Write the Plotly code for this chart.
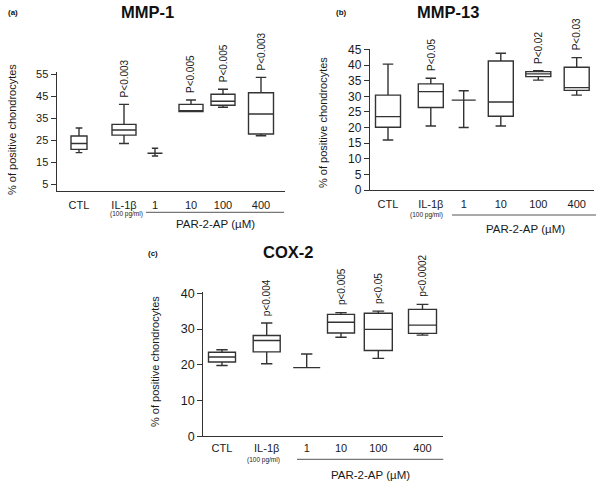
import plotly.graph_objects as go

W, H = 600, 486

categories = ["CTL", "IL-1β", "1", "10", "100", "400"]

# (a) MMP-1
mmp1_lower = [19.3, 23.5, 17.8, 38.0, 40.0, 27.0]
mmp1_q1 = [20.8, 27.3, 19.0, 38.0, 40.9, 27.8]
mmp1_median = [23.5, 29.6, 19.0, 38.3, 42.7, 36.9]
mmp1_q3 = [26.9, 32.2, 19.0, 41.3, 45.9, 46.6]
mmp1_upper = [30.5, 41.3, 21.3, 43.3, 48.2, 53.6]
mmp1_p = ["", "P<0.003", "", "P<0.005", "P<0.005", "P<0.003"]

# (b) MMP-13
mmp13_lower = [16.0, 20.5, 20.0, 20.5, 35.2, 30.4]
mmp13_q1 = [20.1, 26.4, 28.8, 23.6, 36.3, 31.9]
mmp13_median = [23.5, 31.5, 28.8, 28.2, 37.2, 32.8]
mmp13_q3 = [30.4, 34.0, 28.8, 41.3, 37.9, 39.3]
mmp13_upper = [40.3, 35.8, 31.8, 43.8, 38.2, 42.4]
mmp13_p = ["", "P<0.05", "", "", "P<0.02", "P<0.03"]

# (c) COX-2
cox2_lower = [19.8, 20.3, 19.2, 27.7, 21.8, 28.3]
cox2_q1 = [20.8, 23.6, 19.2, 28.9, 24.0, 28.8]
cox2_median = [22.2, 26.8, 19.2, 31.9, 29.9, 31.1]
cox2_q3 = [23.5, 28.2, 19.2, 34.1, 34.4, 35.5]
cox2_upper = [24.2, 31.7, 23.0, 34.6, 35.0, 36.9]
cox2_p = ["", "p<0.004", "", "p<0.005", "p<0.05", "p<0.0002"]

a_ticks = [5, 15, 25, 35, 45, 55]
b_ticks = [0, 5, 10, 15, 20, 25, 30, 35, 40, 45]
c_ticks = [0, 10, 20, 30, 40]

LINE = "#333333"
TXT = "#1a1a1a"
FONT = "Liberation Sans, Arial, sans-serif"

# layout geometry (pixels): plot box left, right, top, bottom; y range; x slot positions; box widths
panels = [
    dict(key="a", title="MMP-1", tag="(a)", box=(56.7, 285.0, 71.7, 190.7), yr=[1.95, 56.2], ticks=a_ticks,
         pos=[22.3, 67.3, 98.3, 134.3, 166.3, 204.3], widths=[16, 24, 15, 24, 24, 25],
         lower=mmp1_lower, q1=mmp1_q1, med=mmp1_median, q3=mmp1_q3, upper=mmp1_upper, p=mmp1_p,
         tickfs=11, ticklen=4,
         title_xy=(147, 12), tag_xy=(13, 12), ytitle_xy=(12, 130),
         sub_xy=(126, 213.5), bracket=(146, 284, 212.3), par_xy=(215, 223.5)),
    dict(key="b", title="MMP-13", tag="(b)", box=(370.0, 594.0, 49.0, 190.0), yr=[0, 45.16], ticks=b_ticks,
         pos=[18, 60.8, 93.7, 130.8, 168.3, 206.7], widths=[25, 25, 24, 25, 25, 25],
         lower=mmp13_lower, q1=mmp13_q1, med=mmp13_median, q3=mmp13_q3, upper=mmp13_upper, p=mmp13_p,
         tickfs=12, ticklen=4,
         title_xy=(448, 12), tag_xy=(342, 12), ytitle_xy=(323, 123),
         sub_xy=(426, 215), bracket=(452, 596, 215), par_xy=(525, 229)),
    dict(key="c", title="COX-2", tag="(c)", box=(203.3, 443.3, 292.0, 436.3), yr=[0, 40.36], ticks=c_ticks,
         pos=[18.7, 63.4, 103.4, 137.7, 175, 219.2], widths=[27, 27, 27, 27, 28, 28],
         lower=cox2_lower, q1=cox2_q1, med=cox2_median, q3=cox2_q3, upper=cox2_upper, p=cox2_p,
         tickfs=12.5, ticklen=1,
         title_xy=(288, 252), tag_xy=(153, 254), ytitle_xy=(155, 362),
         sub_xy=(263, 460), bracket=(297, 443.3, 459.3), par_xy=(370, 474.5)),
]


def fx(x):
    return x / W


def fy(y):
    return 1 - y / H


fig = go.Figure()
annotations = []
shapes = []

for i, pn in enumerate(panels):
    n = "" if i == 0 else str(i + 1)
    xa, ya = "x" + n, "y" + n
    left, right, top, bottom = pn["box"]
    width_units = right - left
    for k in range(len(categories)):
        fig.add_trace(go.Box(
            x=[pn["pos"][k]], q1=[pn["q1"][k]], median=[pn["med"][k]], q3=[pn["q3"][k]],
            lowerfence=[pn["lower"][k]], upperfence=[pn["upper"][k]],
            width=pn["widths"][k], whiskerwidth=0.42,
            fillcolor="white", line=dict(color=LINE, width=1.4),
            boxpoints=False, showlegend=False, hoverinfo="skip",
            xaxis=xa, yaxis=ya,
        ))
        if pn["p"][k]:
            annotations.append(dict(
                x=pn["pos"][k], y=pn["upper"][k], xref=xa, yref=ya,
                text=pn["p"][k], textangle=-90, showarrow=False,
                xanchor="center", yanchor="bottom", yshift=5,
                font=dict(size=10, color=TXT, family=FONT)))
    fig.update_layout(**{
        "xaxis" + n: dict(domain=[fx(left), fx(right)], range=[0, width_units], anchor=ya,
                          tickvals=pn["pos"], ticktext=categories, ticks="outside",
                          ticklen=pn["ticklen"], tickcolor="rgba(0,0,0,0)",
                          showline=True, linecolor=LINE, linewidth=1.4, automargin=False,
                          showgrid=False, zeroline=False, fixedrange=True,
                          tickfont=dict(size=11, color=TXT, family=FONT)),
        "yaxis" + n: dict(domain=[fy(bottom), fy(top)], range=pn["yr"], anchor=xa,
                          tickvals=pn["ticks"], ticks="outside", ticklen=5,
                          tickcolor=LINE, tickwidth=1.2, automargin=False,
                          showline=True, linecolor=LINE, linewidth=1.4,
                          showgrid=False, zeroline=False, fixedrange=True,
                          tickfont=dict(size=pn["tickfs"], color=TXT, family=FONT)),
    })
    # titles and labels
    annotations.append(dict(x=fx(pn["title_xy"][0]), y=fy(pn["title_xy"][1]), xref="paper", yref="paper",
                            text="<b>%s</b>" % pn["title"], showarrow=False, xanchor="center", yanchor="middle",
                            font=dict(size=16.5, color="#111111", family=FONT)))
    annotations.append(dict(x=fx(pn["tag_xy"][0]), y=fy(pn["tag_xy"][1]), xref="paper", yref="paper",
                            text="<b>%s</b>" % pn["tag"], showarrow=False, xanchor="center", yanchor="middle",
                            font=dict(size=8, color="#111111", family=FONT)))
    annotations.append(dict(x=fx(pn["ytitle_xy"][0]), y=fy(pn["ytitle_xy"][1]), xref="paper", yref="paper",
                            text="% of positive chondrocytes", textangle=-90, showarrow=False,
                            xanchor="center", yanchor="middle",
                            font=dict(size=11, color=TXT, family=FONT)))
    annotations.append(dict(x=fx(pn["sub_xy"][0]), y=fy(pn["sub_xy"][1]), xref="paper", yref="paper",
                            text="(100 pg/ml)", showarrow=False, xanchor="center", yanchor="middle",
                            font=dict(size=6.5, color=TXT, family=FONT)))
    annotations.append(dict(x=fx(pn["par_xy"][0]), y=fy(pn["par_xy"][1]), xref="paper", yref="paper",
                            text="PAR-2-AP (µM)", showarrow=False, xanchor="center", yanchor="middle",
                            font=dict(size=11.5, color=TXT, family=FONT)))
    bx0, bx1, by = pn["bracket"]
    shapes.append(dict(type="line", xref="paper", yref="paper", x0=fx(bx0), x1=fx(bx1), y0=fy(by), y1=fy(by),
                       line=dict(color="#555555", width=1)))

fig.update_layout(
    width=W, height=H, margin=dict(l=0, r=0, t=0, b=0, pad=0, autoexpand=False),
    paper_bgcolor="white", plot_bgcolor="white",
    showlegend=False, annotations=annotations, shapes=shapes,
    font=dict(family=FONT, color=TXT),
)

fig.write_html("out.html", config={"displayModeBar": False},
               post_script="document.body.style.margin='0';document.body.style.padding='0';")
